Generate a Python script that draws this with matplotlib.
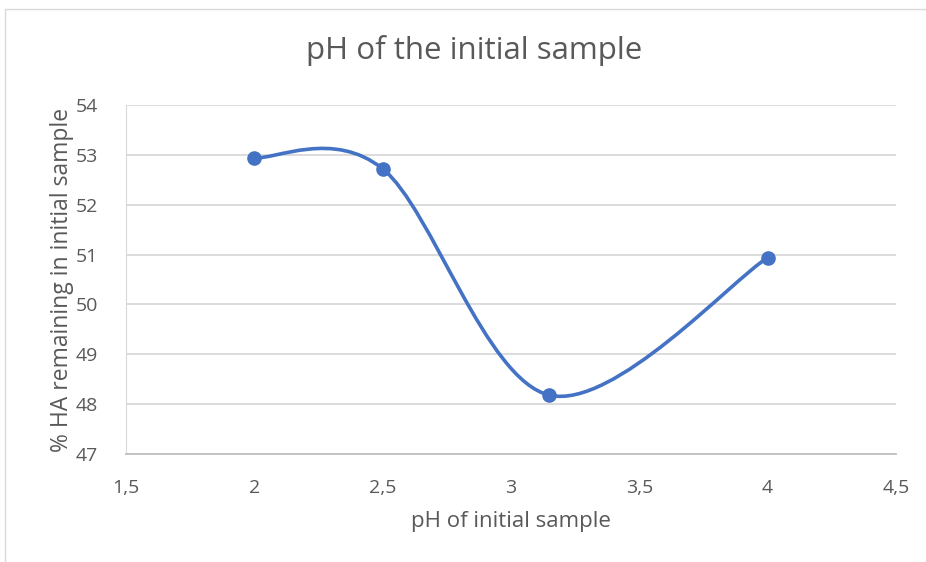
import numpy as np
import matplotlib
matplotlib.use("Agg")
import matplotlib.pyplot as plt
from matplotlib.path import Path
from matplotlib.patches import PathPatch, Rectangle
from matplotlib.ticker import FuncFormatter, MultipleLocator

ph = [2.0, 2.5, 3.15, 4.0]
ha_remaining = [52.94, 52.72, 48.18, 50.94]

blue = "#4472C4"
grey_text = "#595959"
grid_col = "#D9D9D9"

plt.rcParams["font.family"] = ["Open Sans", "DejaVu Sans"]


def smooth_path(xs, ys):
    # bezier curve through the points, same idea as a spreadsheet "smoothed line"
    pts = np.column_stack([xs, ys])
    n = len(pts)
    verts = [pts[0]]
    codes = [Path.MOVETO]
    for i in range(n - 1):
        p_prev = pts[max(i - 1, 0)]
        p0 = pts[i]
        p1 = pts[i + 1]
        p_next = pts[min(i + 2, n - 1)]
        c1 = p0 + (p1 - p_prev) / 6.0
        c2 = p1 - (p_next - p0) / 6.0
        verts += [c1, c2, p1]
        codes += [Path.CURVE4] * 3
    return Path(verts, codes)


fig = plt.figure(figsize=(9.26, 5.62), dpi=100)
ax = fig.add_axes([126 / 926, 1 - 454 / 562, 770 / 926, 349 / 562])

# outer chart frame
fig.patches.append(Rectangle((5 / 926, -0.05), 1.2, 1 - 9 / 562 + 0.05,
                             transform=fig.transFigure, fill=False,
                             edgecolor="#D9D9D9", lw=1.0))

ax.add_patch(PathPatch(smooth_path(ph, ha_remaining), facecolor="none",
                       edgecolor=blue, lw=2.6, capstyle="round", zorder=3))
ax.plot(ph, ha_remaining, linestyle="none", marker="o", ms=9.5,
        color=blue, zorder=4)

ax.set_xlim(1.5, 4.5)
ax.set_ylim(47, 54)
ax.xaxis.set_major_locator(MultipleLocator(0.5))
ax.yaxis.set_major_locator(MultipleLocator(1))
ax.xaxis.set_major_formatter(FuncFormatter(lambda v, p: f"{v:g}".replace(".", ",")))
ax.yaxis.set_major_formatter(FuncFormatter(lambda v, p: f"{v:g}"))

ax.grid(axis="y", color=grid_col, lw=1.3)
ax.set_axisbelow(True)
for s in ["top", "right"]:
    ax.spines[s].set_visible(False)
ax.spines["left"].set_color(grid_col)
ax.spines["bottom"].set_color("#BFBFBF")
ax.spines["bottom"].set_linewidth(1.3)
ax.tick_params(length=0, labelsize=14, labelcolor=grey_text)
ax.tick_params(axis="y", pad=20)
ax.tick_params(axis="x", pad=18)

ax.set_xlabel("pH of initial sample", fontsize=16, color=grey_text, labelpad=10)
ax.set_ylabel("% HA remaining in initial sample", fontsize=16.5, color=grey_text, labelpad=1)
fig.text(474 / 926, 1 - 51 / 562, "pH of the initial sample", ha="center", va="center",
         fontsize=22.5, color=grey_text)

fig.savefig("out.png", dpi=100)
